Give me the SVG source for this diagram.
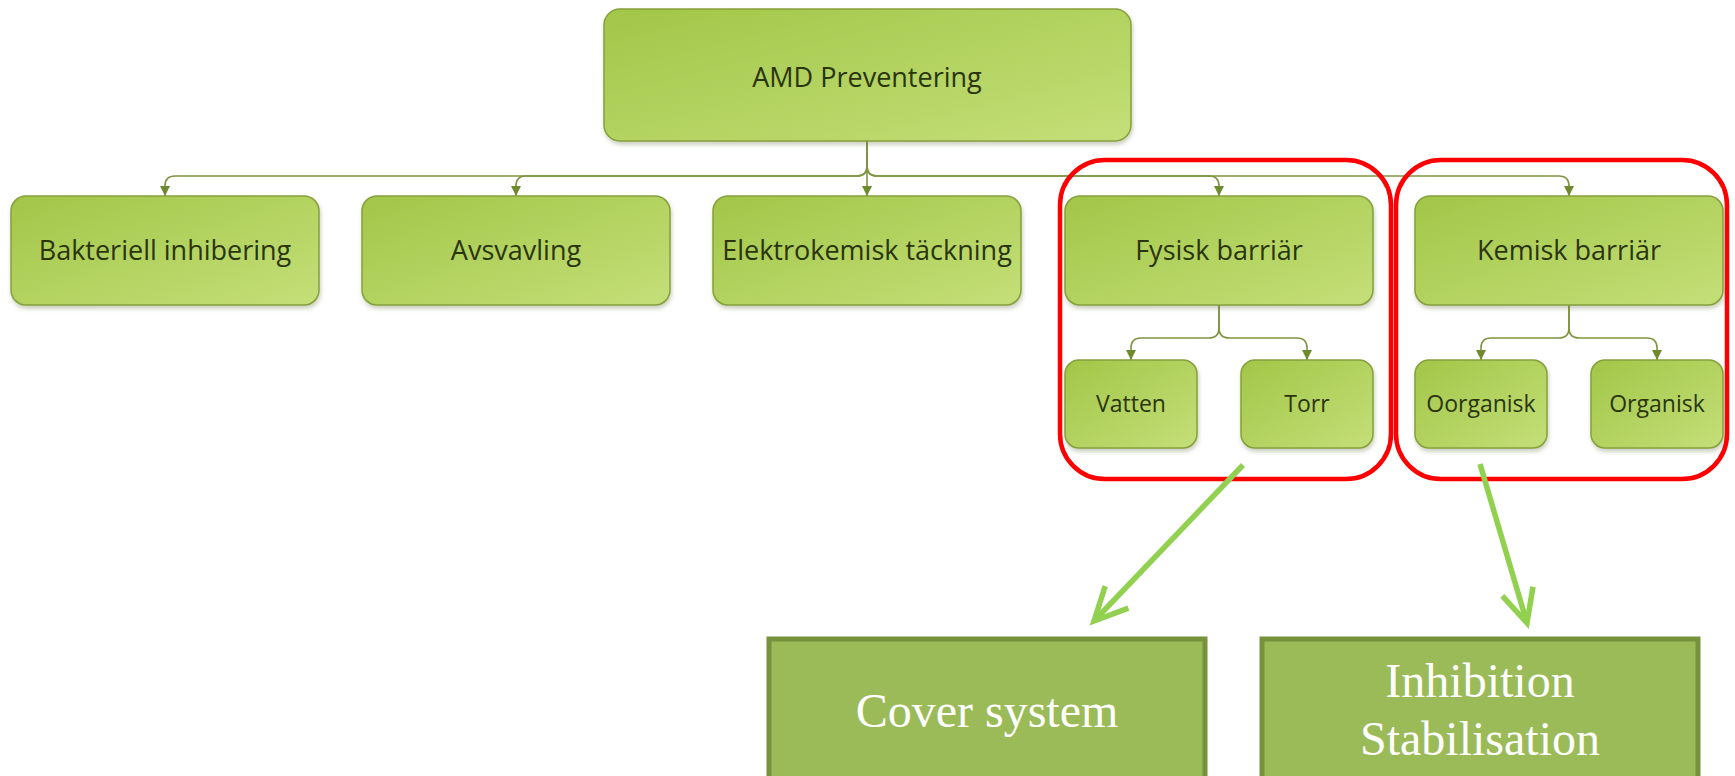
<svg xmlns="http://www.w3.org/2000/svg" width="1735" height="776" viewBox="0 0 1735 776">
<style>
.node rect{fill:url(#gf);stroke:#86a03c;stroke-width:1.5;filter:url(#sh)}
.lbl{font-family:"Open Sans","DejaVu Sans",sans-serif;fill:#2a3510;text-anchor:middle}
.big{font-size:27px}
.sm{font-size:23px}
.conn path{fill:none;stroke:#7f9440;stroke-width:1.6;marker-end:url(#tri)}
.grp{fill:none;stroke:#ff0000;stroke-width:4.5}
.ga{fill:none;stroke:#92d050;stroke-width:5.5;marker-end:url(#chev)}
.res rect{fill:#9bbb59;stroke:#76923c;stroke-width:5}
.res text{font-family:"Liberation Serif","Times New Roman",serif;font-size:48px;fill:#ffffff;text-anchor:middle}
</style>
<defs>
<linearGradient id="gf" x1="0" y1="0" x2="1" y2="1">
<stop offset="0" stop-color="#a2c648"/>
<stop offset="1" stop-color="#c4df78"/>
</linearGradient>
<filter id="sh" x="-10%" y="-10%" width="120%" height="130%">
<feDropShadow dx="1" dy="3" stdDeviation="2" flood-color="#6b7a40" flood-opacity="0.35"/>
</filter>
<marker id="tri" markerUnits="userSpaceOnUse" viewBox="-10 -6 11 12" refX="0" refY="0" markerWidth="11" markerHeight="12" orient="auto">
<path d="M-10,-5 L0,0 L-10,5 z" fill="#6f8a2e"/>
</marker>
<marker id="chev" markerUnits="userSpaceOnUse" viewBox="-40 -22 46 44" refX="0" refY="0" markerWidth="46" markerHeight="44" orient="auto" overflow="visible">
<path d="M-33,-16 L0,0 L-33,16" fill="none" stroke="#92d050" stroke-width="5.5" stroke-linejoin="miter"/>
</marker>
</defs>
<rect width="1735" height="776" fill="#ffffff"/>

<g id="connectors" class="conn">
<path d="M867,141 V166 Q867,176 857,176 H175 Q165,176 165,186 V196"/>
<path d="M867,141 V166 Q867,176 857,176 H526 Q516,176 516,186 V196"/>
<path d="M867,141 V196"/>
<path d="M867,141 V166 Q867,176 877,176 H1209 Q1219,176 1219,186 V196"/>
<path d="M867,141 V166 Q867,176 877,176 H1559 Q1569,176 1569,186 V196"/>
<path d="M1219,305 V328 Q1219,338 1209,338 H1141 Q1131,338 1131,348 V360"/>
<path d="M1219,305 V328 Q1219,338 1229,338 H1297 Q1307,338 1307,348 V360"/>
<path d="M1569,305 V328 Q1569,338 1559,338 H1491 Q1481,338 1481,348 V360"/>
<path d="M1569,305 V328 Q1569,338 1579,338 H1647 Q1657,338 1657,348 V360"/>
</g>

<g id="amd" class="node"><rect x="604" y="9" width="527" height="132" rx="16"/><text class="lbl big" x="867" y="87">AMD Preventering</text></g>
<g id="bakteriell" class="node"><rect x="11" y="196" width="308" height="109" rx="15"/><text class="lbl big" x="165" y="260">Bakteriell inhibering</text></g>
<g id="avsvavling" class="node"><rect x="362" y="196" width="308" height="109" rx="15"/><text class="lbl big" x="516" y="260">Avsvavling</text></g>
<g id="elektrokemisk" class="node"><rect x="713" y="196" width="308" height="109" rx="15"/><text class="lbl big" x="867" y="260">Elektrokemisk täckning</text></g>
<g id="fysisk" class="node"><rect x="1065" y="196" width="308" height="109" rx="15"/><text class="lbl big" x="1219" y="260">Fysisk barriär</text></g>
<g id="kemisk" class="node"><rect x="1415" y="196" width="308" height="109" rx="15"/><text class="lbl big" x="1569" y="260">Kemisk barriär</text></g>
<g id="vatten" class="node"><rect x="1065" y="360" width="132" height="88" rx="14"/><text class="lbl sm" x="1131" y="412">Vatten</text></g>
<g id="torr" class="node"><rect x="1241" y="360" width="132" height="88" rx="14"/><text class="lbl sm" x="1307" y="412">Torr</text></g>
<g id="oorganisk" class="node"><rect x="1415" y="360" width="132" height="88" rx="14"/><text class="lbl sm" x="1481" y="412">Oorganisk</text></g>
<g id="organisk" class="node"><rect x="1591" y="360" width="132" height="88" rx="14"/><text class="lbl sm" x="1657" y="412">Organisk</text></g>

<g id="groups">
<rect class="grp" x="1060" y="160" width="331" height="319" rx="45"/>
<rect class="grp" x="1396" y="160" width="331" height="319" rx="45"/>
</g>

<g id="green-arrows">
<path class="ga" d="M1243,465 L1094,621"/>
<path class="ga" d="M1480,464 L1527,623"/>
</g>

<g id="cover" class="res"><rect x="769" y="639" width="436" height="160"/><text x="987" y="727">Cover system</text></g>
<g id="inhibition" class="res"><rect x="1262" y="639" width="436" height="160"/><text x="1480" y="697">Inhibition</text><text x="1480" y="755">Stabilisation</text></g>
</svg>
